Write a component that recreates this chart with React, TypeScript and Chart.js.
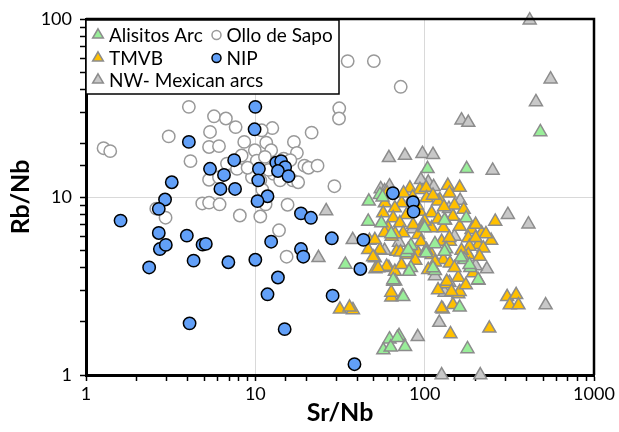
import React, { useEffect, useRef } from "react";
import { Chart, registerables } from "chart.js";

Chart.register(...registerables);

// ---------- data ----------
const OLLO_SR = [35.1, 50.1, 72.2, 4.05, 31.3, 31.2, 5.7, 6.7, 7.65, 12.6, 5.4, 10.9, 3.08, 21.5, 1.27, 1.39, 5.33, 6.1, 8.6, 9.93, 11.6, 12.4, 16.9, 17.6, 8.3, 4.14, 19.5, 20.6, 23.3, 7.65, 6.8, 7.8, 5.33, 6.1, 9.55, 10.7, 12.8, 14.0, 16.6, 17.9, 29.3, 10.2, 11.4, 13.2, 14.7, 16.1, 9.0, 4.86, 5.33, 6.15, 8.1, 10.7, 11.5, 15.5, 2.95, 2.6, 13.8, 15.3, 11.0, 12.0];
const OLLO_RB = [58.0, 58.0, 41.6, 32.1, 31.5, 27.6, 28.4, 27.6, 24.7, 24.4, 23.2, 23.7, 21.9, 23.0, 18.8, 18.1, 19.1, 19.3, 20.4, 18.3, 20.2, 18.3, 20.4, 17.7, 17.1, 15.9, 15.0, 14.6, 15.0, 14.7, 15.4, 14.4, 12.5, 12.9, 12.9, 12.4, 13.5, 12.4, 12.4, 12.1, 11.5, 16.0, 16.8, 15.5, 16.4, 16.1, 14.6, 9.2, 9.3, 9.1, 7.87, 7.77, 9.1, 9.05, 7.65, 8.6, 6.5, 4.62, 11.0, 14.2];

const NIP_SR = [10.0, 9.9, 4.05, 5.4, 6.53, 7.5, 6.22, 7.59, 3.21, 10.5, 10.4, 13.3, 14.2, 15.0, 13.6, 15.7, 11.8, 10.3, 2.93, 2.69, 1.6, 18.6, 21.3, 2.69, 2.73, 2.96, 3.94, 4.88, 5.1, 12.4, 28.3, 43.5, 2.36, 4.32, 6.93, 10.0, 18.6, 19.2, 41.7, 13.6, 11.8, 28.6, 4.09, 14.9, 38.5, 64.9, 85.3, 86.0];
const NIP_RB = [32.1, 24.0, 20.4, 14.4, 13.3, 16.1, 11.1, 11.1, 12.1, 14.4, 12.4, 15.6, 15.9, 14.7, 14.0, 13.1, 10.1, 9.48, 9.68, 8.58, 7.37, 8.09, 7.64, 6.28, 5.1, 5.38, 6.07, 5.4, 5.45, 5.61, 5.86, 5.74, 4.02, 4.39, 4.3, 4.44, 5.1, 4.62, 3.94, 3.53, 2.84, 2.79, 1.95, 1.81, 1.15, 10.5, 9.35, 8.28];

const NWM_SR = [417, 554, 454, 165, 181, 61.5, 76.5, 97, 112, 252, 105, 113, 55, 58, 162, 139, 310, 410, 26.2, 37.6, 23.6, 70.5, 58, 233, 115, 131, 518, 122, 91, 126, 213, 62, 95, 150, 200, 140, 85];
const NWM_RB = [98.5, 45.9, 34.2, 27.0, 26.2, 16.6, 17.1, 17.5, 17.3, 14.1, 12.1, 11.4, 11.1, 10.8, 9.55, 8.6, 7.95, 7.03, 8.35, 5.75, 4.55, 5.56, 5.0, 3.94, 3.6, 2.91, 2.47, 1.97, 1.64, 1.0, 1.0, 11.5, 12.5, 6.0, 4.1, 3.3, 6.6];

const ALI_SR = [482, 104, 177, 46.8, 54.4, 56.4, 46.4, 55.5, 99, 132, 176, 83, 102, 115, 134, 171, 34, 83, 115, 186, 208, 67, 74, 161, 70.6, 62, 57, 63, 76.6, 179, 63.5, 100, 78, 102, 131, 65.2, 80.9, 74.7, 112, 172, 207, 184, 131, 80, 164, 69];
const ALI_RB = [23.2, 14.4, 14.4, 9.45, 10.3, 9.98, 7.29, 7.14, 6.76, 7.4, 7.62, 5.33, 5.0, 5.45, 5.1, 4.48, 4.18, 4.0, 3.85, 4.0, 3.4, 3.36, 2.77, 2.4, 1.66, 1.59, 1.38, 1.43, 1.44, 1.4, 6.2, 6.69, 4.84, 4.84, 4.94, 3.42, 3.81, 2.75, 3.99, 4.44, 3.42, 4.16, 7.4, 5.05, 4.58, 1.62];

const TMVB_SR = [137, 161, 81.8, 93.7, 102, 123, 261, 247, 31.6, 37.7, 36, 307, 347, 318, 358, 241, 142, 128, 158, 134, 158, 63.5, 63.5, 51.2, 61.5, 73.1, 102.6, 120, 58.2, 66.7, 56.9, 65.2, 78.2, 93.7, 110, 71.4, 85.5, 60.9, 63.8, 74.7, 91.5, 110, 126, 54.4, 68.2, 81.8, 102.6, 46.4, 147, 161, 189, 217, 181, 207, 184, 141, 129, 222, 50.8, 59.6, 53.1, 78.2, 66.7, 73, 65.2, 110, 126, 129, 91.5, 141, 135, 161, 144, 147, 181, 211, 193, 47.2, 49.6, 67, 50.8, 90, 100, 120, 150, 170, 200, 230, 85, 75, 60, 140, 95, 115, 150, 165, 200, 175, 120, 140, 105, 88, 72, 98, 58, 130, 112];
const TMVB_RB = [11.6, 11.3, 11.2, 11.0, 11.3, 9.64, 7.29, 5.69, 2.34, 2.32, 2.4, 2.75, 2.82, 2.47, 2.47, 1.83, 1.7, 2.34, 2.85, 3.24, 3.53, 2.73, 2.91, 3.94, 4.0, 9.25, 9.87, 9.45, 9.25, 8.67, 8.13, 7.62, 7.95, 8.3, 8.13, 7.14, 6.98, 6.69, 6.0, 6.27, 6.14, 6.69, 5.62, 5.05, 4.94, 5.16, 5.05, 5.05, 7.78, 6.83, 6.55, 6.27, 5.88, 5.39, 5.27, 5.62, 6.69, 5.16, 4.54, 4.07, 3.99, 4.73, 3.81, 4.16, 3.35, 4.73, 2.37, 4.44, 4.84, 4.25, 3.35, 2.94, 2.94, 2.48, 4.73, 4.63, 3.74, 5.69, 4.6, 6.2, 5.75, 9.0, 7.3, 7.5, 9.0, 8.5, 7.0, 6.2, 10.0, 10.5, 10.5, 10.5, 5.6, 4.3, 4.0, 5.0, 5.9, 3.2, 3.0, 5.9, 3.9, 4.4, 4.9, 6.9, 6.3, 8.8, 10.2];

const X_TICK_LABELS = ["1", "10", "100", "1000"];
const Y_TICK_LABELS = ["1", "10", "100"];

const LEGEND_ITEMS = [
  { label: "Alisitos Arc", style: "triangle", fill: "#99EE99", border: "#8C8C8C", col: 0, row: 0 },
  { label: "Ollo de Sapo", style: "circle", fill: "#FFFFFF", border: "#999999", col: 1, row: 0 },
  { label: "TMVB", style: "triangle", fill: "#FFC000", border: "#8C8C8C", col: 0, row: 1 },
  { label: "NIP", style: "circle", fill: "#62A0F8", border: "#000000", col: 1, row: 1 },
  { label: "NW- Mexican arcs", style: "triangle", fill: "#C8C8C8", border: "#8C8C8C", col: 0, row: 2 },
];

const FONT = 'Lato, "Open Sans", sans-serif';

const pts = (xs: number[], ys: number[]) => xs.map((x, i) => ({ x, y: ys[i] }));

const isPow10 = (v: number) => {
  const l = Math.log10(v);
  return Math.abs(l - Math.round(l)) < 1e-9;
};

const borderAndLegend = {
  id: "borderAndLegend",
  afterDraw(chart: any) {
    const { ctx, chartArea: a } = chart;
    ctx.save();
    // top & right frame
    ctx.strokeStyle = "#000";
    ctx.lineWidth = 2.5;
    ctx.beginPath();
    ctx.moveTo(a.left, a.top);
    ctx.lineTo(a.right, a.top);
    ctx.lineTo(a.right, a.bottom);
    ctx.stroke();

    // legend box
    const bx = a.left, by = a.top + 1, bw = 253, bh = 74;
    ctx.fillStyle = "#fff";
    ctx.fillRect(bx, by, bw, bh);
    ctx.lineWidth = 1.5;
    ctx.strokeStyle = "#000";
    ctx.strokeRect(bx, by, bw, bh);

    const colMarker = [bx + 12, bx + 130.5];
    const colText = [bx + 23, bx + 140.5];
    const rowY = [35, 58, 80];
    ctx.font = `19px ${FONT}`;
    ctx.textBaseline = "middle";
    ctx.textAlign = "left";
    for (const it of LEGEND_ITEMS) {
      const mx = colMarker[it.col];
      const my = rowY[it.row];
      ctx.fillStyle = it.fill;
      ctx.strokeStyle = it.border;
      ctx.lineWidth = 1.5;
      ctx.beginPath();
      if (it.style === "circle") {
        ctx.arc(mx, my, 4.5, 0, Math.PI * 2);
      } else {
        const r = 6.2;
        ctx.moveTo(mx, my - r);
        ctx.lineTo(mx + r * 0.866, my + r * 0.5);
        ctx.lineTo(mx - r * 0.866, my + r * 0.5);
        ctx.closePath();
      }
      ctx.fill();
      ctx.stroke();
      ctx.fillStyle = "#000";
      ctx.fillText(it.label, colText[it.col], my + 1);
    }
    ctx.restore();
  },
};

export default function App() {
  const ref = useRef<HTMLCanvasElement | null>(null);

  useEffect(() => {
    document.body.style.margin = "0";
    const canvas = ref.current;
    if (!canvas) return;

    const gridColor = (c: any) => {
      const v = c.tick ? c.tick.value : null;
      if (v == null) return "rgba(0,0,0,0)";
      if (!isPow10(v)) return "rgba(0,0,0,0)";
      return "#D9D9D9";
    };

    const tri = (label: string, xs: number[], ys: number[], fill: string) => ({
      label,
      data: pts(xs, ys),
      pointStyle: "triangle",
      pointRadius: 7.5,
      backgroundColor: fill,
      borderColor: "#8C8C8C",
      borderWidth: 1.5,
      clip: false as any,
    });

    const chart = new Chart(canvas, {
      type: "scatter",
      data: {
        datasets: [
          {
            label: "NIP",
            data: pts(NIP_SR, NIP_RB),
            pointStyle: "circle",
            pointRadius: 6.2,
            backgroundColor: "#62A0F8",
            borderColor: "#000000",
            borderWidth: 1.5,
            clip: false as any,
          },
          tri("Alisitos Arc", ALI_SR, ALI_RB, "#99EE99"),
          tri("TMVB", TMVB_SR, TMVB_RB, "#FFC000"),
          tri("NW- Mexican arcs", NWM_SR, NWM_RB, "#C8C8C8"),
          {
            label: "Ollo de Sapo",
            data: pts(OLLO_SR, OLLO_RB),
            pointStyle: "circle",
            pointRadius: 6.2,
            backgroundColor: "#FFFFFF",
            borderColor: "#999999",
            borderWidth: 1.5,
            clip: false as any,
          },
        ],
      },
      options: {
        responsive: false,
        animation: false,
        events: [],
        layout: { padding: { top: 19, right: 25, left: 0, bottom: 0 } },
        plugins: { legend: { display: false }, tooltip: { enabled: false } },
        scales: {
          x: {
            type: "logarithmic",
            min: 1,
            max: 1000,
            afterFit: (s: any) => {
              s.height = 57;
            },
            border: { display: true, color: "#000", width: 3 },
            grid: {
              color: gridColor,
              lineWidth: 1,
              tickColor: "#000",
              tickWidth: 1.5,
              tickLength: 6,
            },
            ticks: {
              autoSkip: false,
              maxRotation: 0,
              color: "#000",
              padding: 2,
              font: { family: FONT, size: 18 },
              callback: (v: any) => {
                const n = Number(v);
                return isPow10(n) ? X_TICK_LABELS[Math.round(Math.log10(n))] : "";
              },
            },
            title: {
              display: true,
              text: "Sr/Nb",
              color: "#000",
              font: { family: FONT, size: 25, weight: "bold" },
              padding: { top: 0, bottom: 4 },
            },
          },
          y: {
            type: "logarithmic",
            min: 1,
            max: 100,
            afterFit: (s: any) => {
              s.width = 86;
            },
            border: { display: true, color: "#000", width: 3 },
            grid: {
              color: gridColor,
              lineWidth: 1,
              tickColor: "#000",
              tickWidth: 1.5,
              tickLength: 6,
            },
            ticks: {
              autoSkip: false,
              color: "#000",
              padding: 8,
              font: { family: FONT, size: 18 },
              callback: (v: any) => {
                const n = Number(v);
                return isPow10(n) ? Y_TICK_LABELS[Math.round(Math.log10(n))] : "";
              },
            },
            title: {
              display: true,
              text: "Rb/Nb",
              color: "#000",
              font: { family: FONT, size: 25, weight: "bold" },
              padding: { top: 6, bottom: 0 },
            },
          },
        },
      },
      plugins: [borderAndLegend],
    });

    return () => chart.destroy();
  }, []);

  return (
    <div style={{ width: 619, height: 432, background: "#fff" }}>
      <canvas ref={ref} width={619} height={432} style={{ display: "block" }} />
    </div>
  );
}
